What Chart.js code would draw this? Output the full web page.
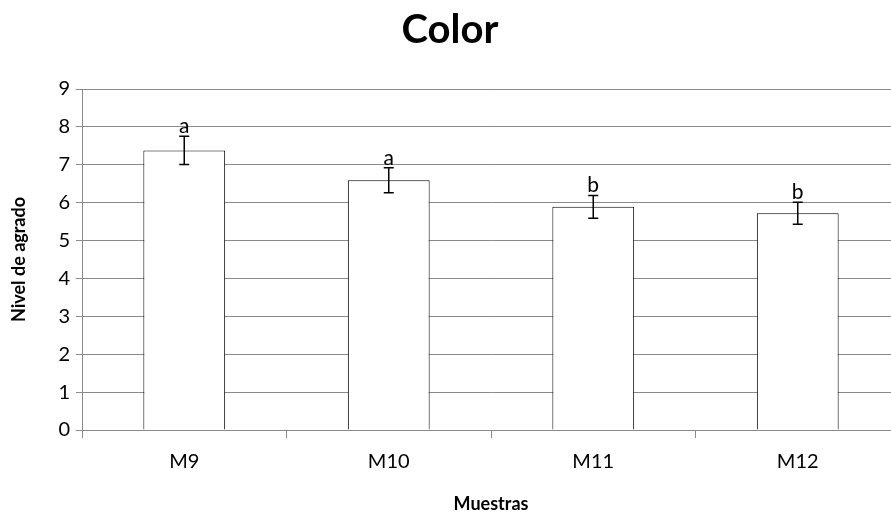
<!DOCTYPE html>
<html>
<head>
<meta charset="utf-8">
<script src="https://cdn.jsdelivr.net/npm/chart.js@4"></script>
<style>
  html, body { margin: 0; padding: 0; background: #fff; overflow: hidden; }
  #wrap { width: 900px; height: 515px; }
</style>
</head>
<body>
<div id="wrap"><canvas id="chart" width="900" height="515"></canvas></div>
<script>
// Data
const categories = ["M9", "M10", "M11", "M12"];
const values = [7.38, 6.59, 5.89, 5.72];
const errors = [0.37, 0.33, 0.30, 0.29];
const letters = ["a", "a", "b", "b"];
const yTicks = [0, 1, 2, 3, 4, 5, 6, 7, 8, 9];

const fontFamily = "Lato, 'Open Sans', sans-serif";
const gridColor = "#8a8a8a";

// Draw error bars and significance letters from the scales
const errorBarPlugin = {
  id: "errorBars",
  afterDatasetsDraw(chart) {
    const ctx = chart.ctx;
    const yScale = chart.scales.y;
    const meta = chart.getDatasetMeta(0);
    ctx.save();
    ctx.strokeStyle = "#000";
    ctx.lineWidth = 1.5;
    for (let i = 0; i < values.length; i++) {
      let x = meta.data[i].x;
      let yTop = yScale.getPixelForValue(values[i] + errors[i]);
      let yBot = yScale.getPixelForValue(values[i] - errors[i]);
      ctx.beginPath();
      ctx.moveTo(x, yTop);
      ctx.lineTo(x, yBot);
      ctx.moveTo(x - 5, yTop);
      ctx.lineTo(x + 5, yTop);
      ctx.moveTo(x - 5, yBot);
      ctx.lineTo(x + 5, yBot);
      ctx.stroke();

      ctx.fillStyle = "#000";
      ctx.font = "21px " + fontFamily;
      ctx.textAlign = "center";
      ctx.textBaseline = "alphabetic";
      ctx.fillText(letters[i], x, yTop - 3);
    }
    ctx.restore();
  }
};

new Chart(document.getElementById("chart").getContext("2d"), {
  type: "bar",
  data: {
    labels: categories,
    datasets: [{
      data: values,
      backgroundColor: "#ffffff",
      borderColor: "#000000",
      borderWidth: 1,
      categoryPercentage: 1.0,
      barPercentage: 0.4
    }]
  },
  plugins: [errorBarPlugin],
  options: {
    responsive: false,
    animation: false,
    layout: { padding: { left: 0, right: 0, top: 0, bottom: 0 } },
    plugins: {
      legend: { display: false },
      tooltip: { enabled: false },
      title: {
        display: true,
        text: "Color",
        color: "#000",
        font: { family: fontFamily, size: 40, weight: "bold" },
        padding: { top: 6, bottom: 35 }
      }
    },
    scales: {
      x: {
        offset: true,
        grid: {
          offset: true,
          drawOnChartArea: false,
          drawTicks: true,
          tickLength: 8,
          color: gridColor
        },
        border: { color: gridColor, width: 1 },
        ticks: {
          color: "#000",
          font: { family: fontFamily, size: 20 },
          padding: 12
        },
        title: {
          display: true,
          text: "Muestras",
          color: "#000",
          font: { family: fontFamily, size: 18, weight: "bold" },
          padding: { top: 8, bottom: 0 }
        },
        afterFit(scale) { scale.height = 85; }
      },
      y: {
        min: 0,
        max: 9,
        afterBuildTicks(scale) {
          scale.ticks = yTicks.map(function (v) { return { value: v }; });
        },
        grid: {
          color: gridColor,
          drawTicks: true,
          tickLength: 6
        },
        border: { color: gridColor, width: 1 },
        ticks: {
          color: "#000",
          font: { family: fontFamily, size: 20 },
          padding: 6
        },
        title: {
          display: true,
          text: "Nivel de agrado",
          color: "#000",
          font: { family: fontFamily, size: 18, weight: "bold" },
          padding: { top: 8, bottom: 4 }
        },
        afterFit(scale) { scale.width = 82; }
      }
    }
  }
});
</script>
</body>
</html>
